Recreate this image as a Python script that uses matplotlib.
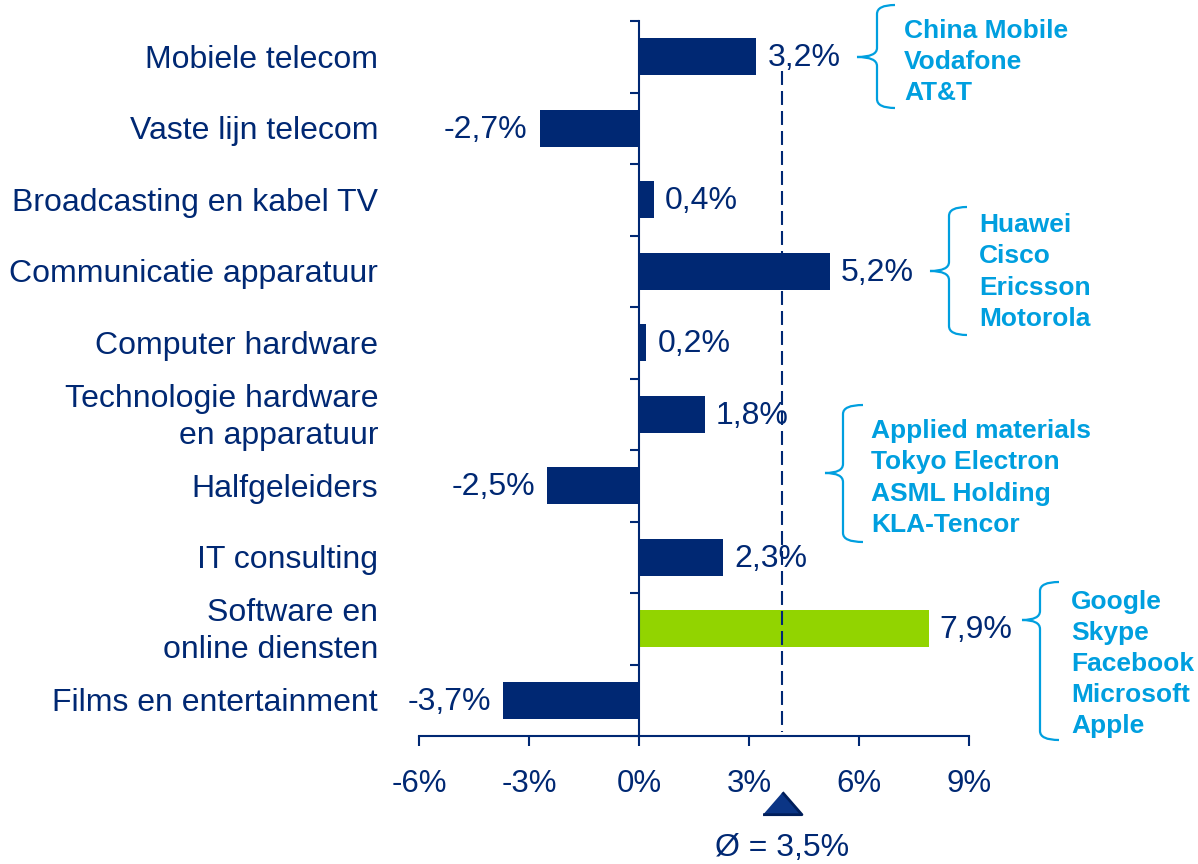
import matplotlib
matplotlib.use("Agg")
import matplotlib.pyplot as plt
import matplotlib.transforms as mtransforms
from matplotlib.path import Path
from matplotlib.patches import PathPatch
import numpy as np

# data
categories = ["Mobiele telecom", "Vaste lijn telecom", "Broadcasting en kabel TV",
              "Communicatie apparatuur", "Computer hardware",
              "Technologie hardware\nen apparatuur", "Halfgeleiders", "IT consulting",
              "Software en\nonline diensten", "Films en entertainment"]
values = [3.2, -2.7, 0.4, 5.2, 0.2, 1.8, -2.5, 2.3, 7.9, -3.7]
highlight = "Software en\nonline diensten"
x_ticks = [-6, -3, 0, 3, 6, 9]
avg_pos = 3.9
avg_label = "Ø = 3,5%"
groups = [["China Mobile", "Vodafone", "AT&T"],
          ["Huawei", "Cisco", "Ericsson", "Motorola"],
          ["Applied materials", "Tokyo Electron", "ASML Holding", "KLA-Tencor"],
          ["Google", "Skype", "Facebook", "Microsoft", "Apple"]]

NAVY = "#002873"
GREEN = "#92D400"
LIGHT = "#009FDF"
W, H = 1198, 864

plt.rcParams['font.family'] = ['Liberation Sans', 'DejaVu Sans']

fig = plt.figure(figsize=(W / 100, H / 100), dpi=100)
ax = fig.add_axes([419 / W, 1 - 736 / H, 550 / W, 715 / H])

y = np.arange(len(categories))
colors = [GREEN if c == highlight else NAVY for c in categories]
ax.barh(y, values, height=0.52, color=colors, zorder=2)

ax.set_xlim(-6, 9)
ax.set_ylim(len(categories) - 0.5, -0.5)

# axes styling
for s in ["top", "right"]:
    ax.spines[s].set_visible(False)
ax.spines["left"].set_position(("data", 0))
for s in ["left", "bottom"]:
    ax.spines[s].set_color(NAVY)
    ax.spines[s].set_linewidth(1.5)
ax.set_yticks(np.arange(-0.5, len(categories), 1))
ax.set_yticklabels([])
ax.tick_params(axis="y", direction="out", length=6.5, width=1.5, color=NAVY)
ax.set_xticks(x_ticks)
ax.set_xticklabels([f"{t}%" for t in x_ticks])
ax.tick_params(axis="x", direction="out", length=7.5, width=1.5, color=NAVY,
               labelcolor=NAVY, labelsize=22.5, pad=16)

# category labels
trans = mtransforms.blended_transform_factory(ax.transAxes, ax.transData)
for i, c in enumerate(categories):
    ax.annotate(c, (-0.0745, i), xycoords=trans, xytext=(0, -2.2),
                textcoords="offset points", ha="right", va="center",
                fontsize=23, color=NAVY, linespacing=1.3)

# value labels
for i, v in enumerate(values):
    txt = f"{v:.1f}%".replace(".", ",")
    off = 8 if v >= 0 else -9
    ax.annotate(txt, (v, i), xytext=(off, -1), textcoords="offset points",
                ha="left" if v >= 0 else "right", va="center",
                fontsize=23, color=NAVY, zorder=4)

# average line + marker
ax.vlines(avg_pos, 0.2, 9.45, colors=NAVY, linewidth=1.5,
          linestyles=(0, (6.7, 2.9)), zorder=3)
tri = mtransforms.blended_transform_factory(ax.transData, ax.transAxes)
ax.plot([avg_pos], [-0.094], marker=[(-1, -0.575), (1, -0.575), (0, 0.575)],
        ms=28, color="#0B3585", mec="#001E5A", mew=2, transform=tri,
        clip_on=False)
ax.text(avg_pos, -0.157, avg_label, transform=tri, ha="center", va="center",
        fontsize=23, color=NAVY)


# curly braces with company names
def brace(x_tip, y_tip, x_v, x_r, y_top, y_bot, r=9):
    pts = [(x_r, y_top), (x_v, y_top), (x_v, y_top + r),
           (x_v, y_tip - r), (x_v, y_tip), (x_tip, y_tip),
           (x_v, y_tip), (x_v, y_tip + r),
           (x_v, y_bot - r), (x_v, y_bot), (x_r, y_bot)]
    codes = [Path.MOVETO, Path.CURVE3, Path.CURVE3,
             Path.LINETO, Path.CURVE3, Path.CURVE3,
             Path.CURVE3, Path.CURVE3,
             Path.LINETO, Path.CURVE3, Path.CURVE3]
    pts = [(px / W, 1 - py / H) for px, py in pts]
    fig.add_artist(PathPatch(Path(pts, codes), transform=fig.transFigure,
                             fill=False, edgecolor=LIGHT, linewidth=1.6))


brace_layout = [
    # x_tip, y_tip, x_v, x_r, y_top, y_bot, text_x, text_y
    (857, 57, 877, 895, 5, 108, 904, 62),
    (930, 271, 949, 967, 207, 335, 979, 272),
    (825, 473, 843, 863, 405, 542, 871, 478),
    (1022, 620, 1040, 1059, 582, 740, 1071, 664),
]
for names, (xt, yt, xv, xr, ytop, ybot, tx, ty) in zip(groups, brace_layout):
    brace(xt, yt, xv, xr, ytop, ybot)
    fig.text(tx / W, 1 - ty / H, "\n".join(names), ha="left", va="center",
             fontsize=19, fontweight="bold", color=LIGHT, linespacing=1.37)

fig.savefig("out.png", dpi=100)
